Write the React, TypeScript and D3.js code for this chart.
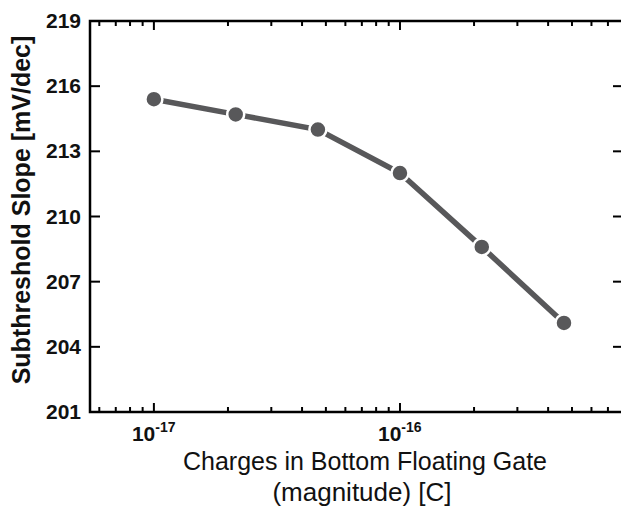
import React from "react";
import * as d3 from "d3";

const charges = [1e-17, 2.15e-17, 4.64e-17, 1e-16, 2.15e-16, 4.64e-16];
const slope = [215.4, 214.7, 214.0, 212.0, 208.6, 205.1];
const yTicks = [201, 204, 207, 210, 213, 216, 219];
const xMajorTicks = [1e-17, 1e-16];
const xMajorExponents = ["-17", "-16"];
const yTitle = "Subthreshold Slope [mV/dec]";
const xTitle1 = "Charges in Bottom Floating Gate";
const xTitle2 = "(magnitude) [C]";

const W = 621;
const H = 509;
const L = 90, R = 623, T = 21, B = 412;
const FONT = "'Liberation Sans', Arial, Helvetica, sans-serif";

export default function App() {
  const x = d3.scaleLog().domain([5.5e-18, 8.06e-16]).range([L, R]);
  const y = d3.scaleLinear().domain([201, 219]).range([B, T]);
  const minor = x.ticks().filter(
    (t) => !xMajorTicks.some((m) => Math.abs(m - t) / m < 1e-6) && x(t) > L + 2 && x(t) < R - 2
  );
  const pts = charges.map((c, i) => [x(c), y(slope[i])] as [number, number]);
  const line = d3.line()(pts) || "";
  const col = "#58585a";
  return (
    <svg width={W} height={H} style={{ position: "absolute", left: 0, top: 0, background: "#fff" }} fontFamily={FONT}>
      <rect x={0} y={0} width={W} height={H} fill="#fff" />
      {/* frame */}
      <rect x={L} y={T} width={R - L} height={B - T} fill="none" stroke="#000" strokeWidth={2.5} />
      {/* y ticks */}
      {yTicks.map((t) => (
        <g key={"y" + t}>
          <line x1={L} x2={L + 10} y1={y(t)} y2={y(t)} stroke="#000" strokeWidth={2} />
          <line x1={R} x2={R - 10} y1={y(t)} y2={y(t)} stroke="#000" strokeWidth={2} />
          <text x={81} y={y(t) + 7} textAnchor="end" fontSize={21} fontWeight="bold" fill="#111">
            {t}
          </text>
        </g>
      ))}
      {/* x major ticks */}
      {xMajorTicks.map((t, i) => (
        <g key={"xm" + i}>
          <line x1={x(t)} x2={x(t)} y1={B} y2={B - 9} stroke="#000" strokeWidth={2} />
          <line x1={x(t)} x2={x(t)} y1={T} y2={T + 9} stroke="#000" strokeWidth={2} />
          <text x={x(t) - 22} y={441} fontSize={21} fontWeight="bold" fill="#111">
            10
            <tspan dy={-9} fontSize={14}>
              {xMajorExponents[i]}
            </tspan>
          </text>
        </g>
      ))}
      {/* x minor ticks */}
      {minor.map((t, i) => (
        <g key={"xn" + i}>
          <line x1={x(t)} x2={x(t)} y1={B} y2={B - 5} stroke="#000" strokeWidth={2} />
          <line x1={x(t)} x2={x(t)} y1={T} y2={T + 5} stroke="#000" strokeWidth={2} />
        </g>
      ))}
      {/* data */}
      <path d={line} fill="none" stroke={col} strokeWidth={5.5} />
      {pts.map((p, i) => (
        <circle key={"p" + i} cx={p[0]} cy={p[1]} r={8.5} fill={col} stroke="#fff" strokeWidth={2.5} />
      ))}
      {/* titles */}
      <text
        transform={`translate(30,${210}) rotate(-90)`}
        textAnchor="middle"
        fontSize={25}
        fontWeight="bold"
        fill="#111"
      >
        {yTitle}
      </text>
      <text x={365} y={470} textAnchor="middle" fontSize={25} fill="#111">
        {xTitle1}
      </text>
      <text x={362} y={501} textAnchor="middle" fontSize={26} fill="#111">
        {xTitle2}
      </text>
    </svg>
  );
}
